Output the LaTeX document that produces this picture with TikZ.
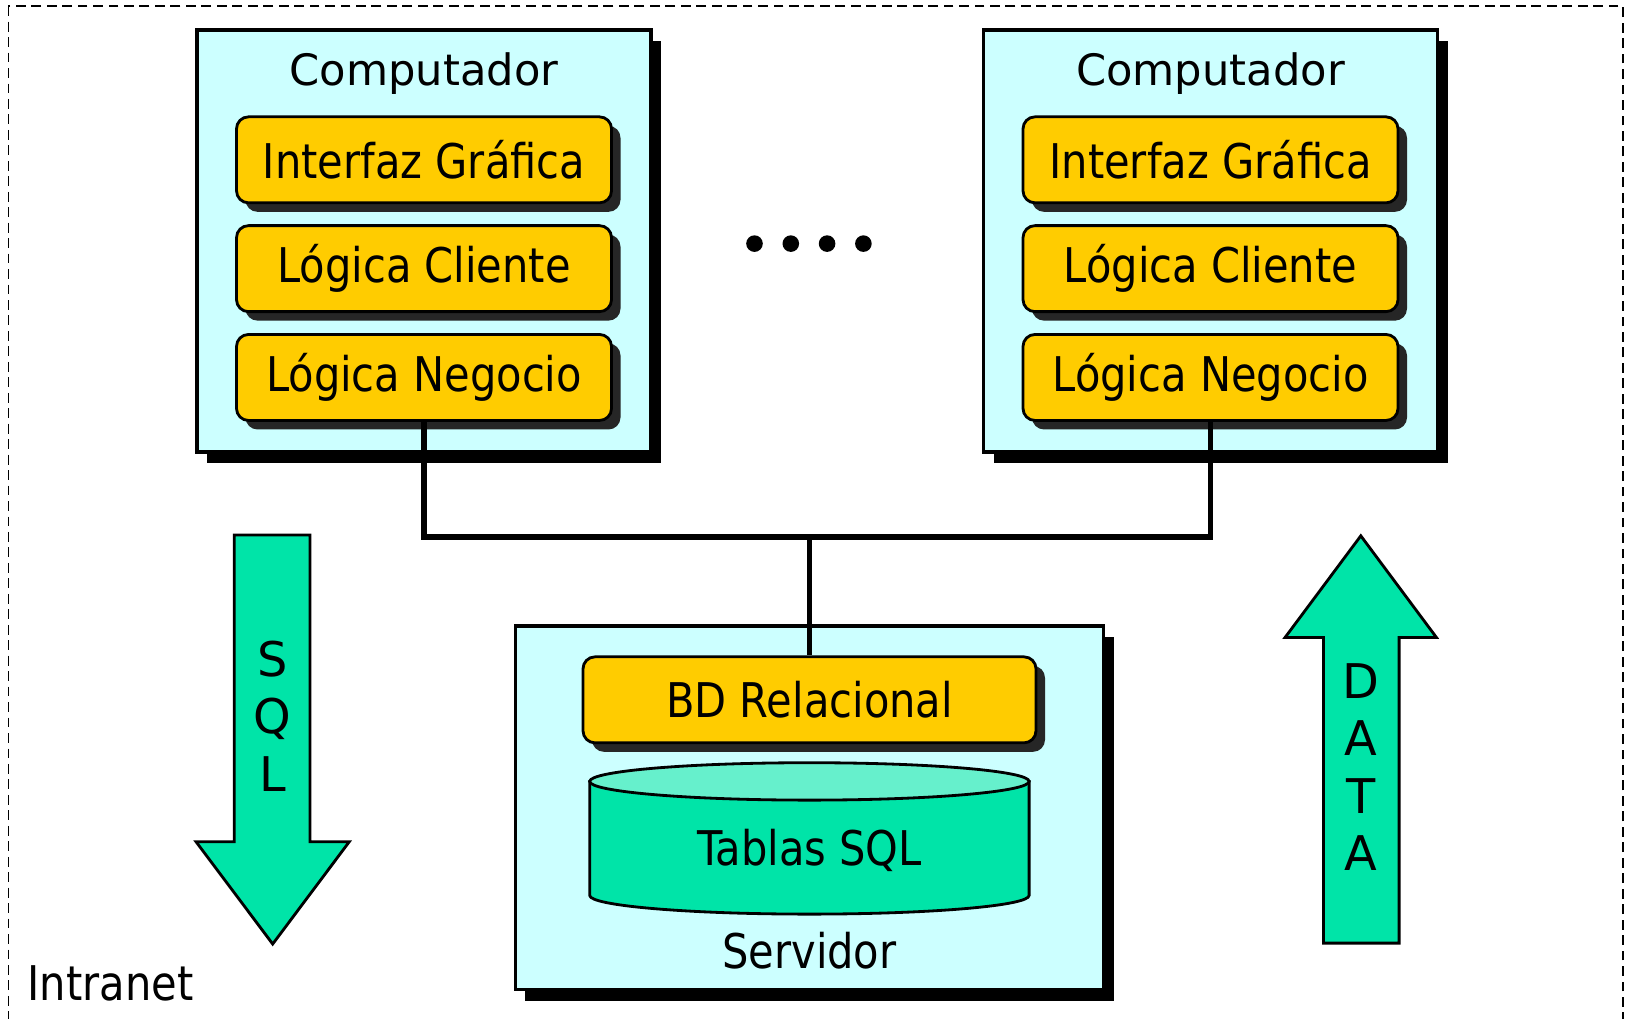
\documentclass[tikz,border=0pt]{standalone}
\usepackage{fontspec}
\setmainfont{DejaVu Sans}
\newfontfamily\narrowfont[FakeStretch=0.87]{DejaVu Sans}
\usepackage{xcolor}
\usepackage{tikz}
\usetikzlibrary{positioning,shadows}

\definecolor{boxcyan}{HTML}{CCFFFF}
\definecolor{layeryellow}{HTML}{FFCC00}
\definecolor{mint}{HTML}{00E4A8}
\definecolor{mintlight}{HTML}{66F0CC}

\begin{document}
\begin{tikzpicture}[
  node distance=0.2cm,
  machine/.style={rectangle, draw, line width=0.9pt, fill=boxcyan, minimum width=4.54cm, minimum height=4.22cm, drop shadow={shadow xshift=0.1cm, shadow yshift=-0.11cm, fill=black, opacity=1}},
  layer/.style={rectangle, draw, line width=0.8pt, rounded corners=0.12cm, fill=layeryellow, minimum width=3.75cm, minimum height=0.86cm, font=\narrowfont\fontsize{13.6}{16}\selectfont, drop shadow={shadow xshift=0.09cm, shadow yshift=-0.09cm, fill=black!85, opacity=1}},
  title/.style={font=\fontsize{12.3}{15}\selectfont},
  caption/.style={font=\narrowfont\fontsize{13.6}{16}\selectfont},
  wire/.style={line width=1.6pt},
  bigarrow/.style={draw, line width=0.8pt, fill=mint, line join=miter},
  letters/.style={align=center, font=\fontsize{13.6}{16.3}\selectfont}
]
\useasboundingbox (0,0) rectangle (16.25,-10.18);
\clip (0,0) rectangle (16.25,-10.18);
\draw[line width=0.45pt, dash pattern=on 2.8pt off 1.6pt] (0.083,-0.062) rectangle (16.23,-10.6);

% clientes
\node[machine] (pcL) at (4.24,-2.41) {};
\node[title, below=0.12cm of pcL.north] (titleL) {Computador};
\node[layer, below=0.87cm of pcL.north] (guiL) {Interfaz Gráfica};
\node[layer, below=of guiL] (cliL) {Lógica Cliente};
\node[layer, below=of cliL] (negL) {Lógica Negocio};

\node[machine] (pcR) at (12.105,-2.41) {};
\node[title, below=0.12cm of pcR.north] (titleR) {Computador};
\node[layer, below=0.87cm of pcR.north] (guiR) {Interfaz Gráfica};
\node[layer, below=of guiR] (cliR) {Lógica Cliente};
\node[layer, below=of cliR] (negR) {Lógica Negocio};

\foreach \i in {0,...,3}
  \fill (7.545+0.363*\i,-2.436) circle (0.083);

% servidor
\node[machine, minimum width=5.887cm, minimum height=3.638cm] (srv) at (8.095,-8.079) {};
\node[layer, minimum width=4.53cm, below=0.31cm of srv.north] (bd) {BD Relacional};
\draw[line width=0.8pt, fill=mint] (5.897,-7.814) -- (5.897,-8.954) arc[start angle=180, end angle=360, x radius=2.197cm, y radius=0.187cm] -- (10.291,-7.814) -- cycle;
\draw[line width=0.8pt, fill=mintlight] (8.094,-7.814) ellipse [x radius=2.197cm, y radius=0.187cm];
\node[caption] (tablas) at (8.094,-8.50) {Tablas SQL};
\node[caption] (servidor) at (8.094,-9.51) {Servidor};

% red
\coordinate (bus) at (bd.north |- 0,-5.37);
\draw[wire] (negL.south) |- (bus) -| (negR.south);
\draw[wire] (bus) -- (bd.north);

% flechas
\draw[bigarrow] (2.343,-5.35) -- (3.10,-5.35) -- (3.10,-8.417) -- (3.493,-8.417) -- (2.727,-9.44) -- (1.96,-8.417) -- (2.343,-8.417) -- cycle;
\node[letters] (sql) at (2.727,-7.16) {S\\Q\\L};
\draw[bigarrow] (13.608,-5.358) -- (14.364,-6.374) -- (13.991,-6.374) -- (13.991,-9.431) -- (13.235,-9.431) -- (13.235,-6.374) -- (12.851,-6.374) -- cycle;
\node[letters] (data) at (13.608,-7.67) {D\\A\\T\\A};

\node[caption, anchor=base west, inner sep=0pt] (intranet) at (0.27,-10.0) {Intranet};
\end{tikzpicture}
\end{document}
